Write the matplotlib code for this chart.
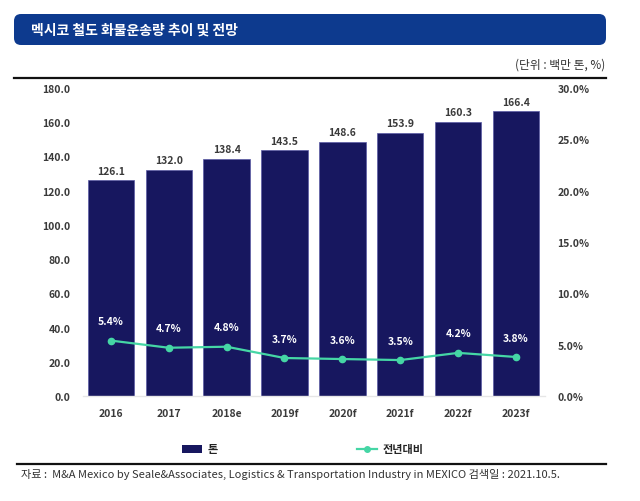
import matplotlib
matplotlib.use("Agg")
import matplotlib.pyplot as plt
from matplotlib.patches import FancyBboxPatch, Patch
from matplotlib.lines import Line2D

plt.rcParams['font.family'] = ['Noto Sans CJK KR', 'DejaVu Sans']

# Data
years = ['2016', '2017', '2018e', '2019f', '2020f', '2021f', '2022f', '2023f']
tons = [126.1, 132.0, 138.4, 143.5, 148.6, 153.9, 160.3, 166.4]
yoy = [5.4, 4.7, 4.8, 3.7, 3.6, 3.5, 4.2, 3.8]
left_ticks = [0, 20, 40, 60, 80, 100, 120, 140, 160, 180]
right_ticks = [0, 5, 10, 15, 20, 25, 30]

title = '멕시코 철도 화물운송량 추이 및 전망'
unit = '(단위 : 백만 톤, %)'
source = '자료 :  M&A Mexico by Seale&Associates, Logistics & Transportation Industry in MEXICO 검색일 : 2021.10.5.'

BAR = '#17175f'
LINE = '#45d6a5'
BOX = '#0d3a8e'
TXT = '#3a3a3a'

W, H = 640, 502
fig = plt.figure(figsize=(W / 100, H / 100), dpi=100)

# background layer in pixel coordinates
bg = fig.add_axes([0, 0, 1, 1], zorder=0)
bg.set_xlim(0, W)
bg.set_ylim(H, 0)
bg.axis('off')
bg.patch.set_alpha(0)

bg.add_patch(FancyBboxPatch((14, 15), 592, 31, boxstyle='round,pad=0,rounding_size=7',
                            facecolor=BOX, edgecolor='none'))
bg.text(31, 31, title, color='white', fontsize=10, fontweight='bold', va='center', ha='left')
bg.text(605, 65, unit, color='#333333', fontsize=8.5, va='center', ha='right')
bg.plot([14, 606], [79, 79], color='#111111', lw=1.6)
bg.plot([17, 606], [465, 465], color='#111111', lw=1.6)
bg.text(21, 474, source, color='#333333', fontsize=8, va='center', ha='left')

# main chart
ax = fig.add_axes([83 / W, 1 - 397 / H, 462 / W, 308 / H], zorder=1)
ax.patch.set_visible(False)
x = range(len(years))
ax.bar(x, tons, width=0.8, color=BAR, edgecolor='#5a5aa5', linewidth=0.5, zorder=2)
for xi, v in zip(x, tons):
    ax.annotate(f'{v:.1f}', (xi, v), xytext=(0, 7), textcoords='offset points',
                ha='center', va='center', fontsize=7.5, fontweight='bold', color=TXT)

ax.set_xlim(-0.48, 7.5)
ax.set_ylim(0, 180)
ax.set_yticks(left_ticks)
ax.set_yticklabels([f'{t:.1f}' for t in left_ticks])
ax.set_xticks(list(x))
ax.set_xticklabels(years)
ax.tick_params(axis='both', length=0, labelsize=7.5, labelcolor=TXT)
ax.tick_params(axis='y', pad=9)
ax.tick_params(axis='x', pad=9)
for lab in ax.get_xticklabels() + ax.get_yticklabels():
    lab.set_fontweight('bold')
for s in ['top', 'left', 'right']:
    ax.spines[s].set_visible(False)
ax.spines['bottom'].set_color('#e6e6e6')
ax.spines['bottom'].set_linewidth(1)

ax2 = ax.twinx()
ax2.set_ylim(0, 30)
ax2.set_yticks(right_ticks)
ax2.set_yticklabels([f'{t:.1f}%' for t in right_ticks])
ax2.tick_params(axis='y', length=0, labelsize=7.5, labelcolor=TXT, pad=9)
for lab in ax2.get_yticklabels():
    lab.set_fontweight('bold')
for s in ax2.spines.values():
    s.set_visible(False)
ax2.plot(list(x), yoy, color=LINE, lw=1.6, marker='o', markersize=4.5, zorder=3)
for xi, v in zip(x, yoy):
    ax2.annotate(f'{v:.1f}%', (xi, v), xytext=(0, 14), textcoords='offset points',
                 ha='center', va='center', fontsize=7.5, fontweight='bold', color='white')

handles = [Patch(facecolor=BAR, edgecolor='none'),
           Line2D([], [], color=LINE, lw=1.6, marker='o', markersize=4)]
fig.legend(handles, ['톤', '전년대비'], loc='center', bbox_to_anchor=(303 / W, 1 - 450 / H),
           ncol=2, frameon=False, handlelength=1.8, handleheight=0.7, handletextpad=0.5,
           columnspacing=12.5, prop={'size': 8, 'weight': 'bold'}, labelcolor='#222222')

fig.savefig('out.png', dpi=100)
